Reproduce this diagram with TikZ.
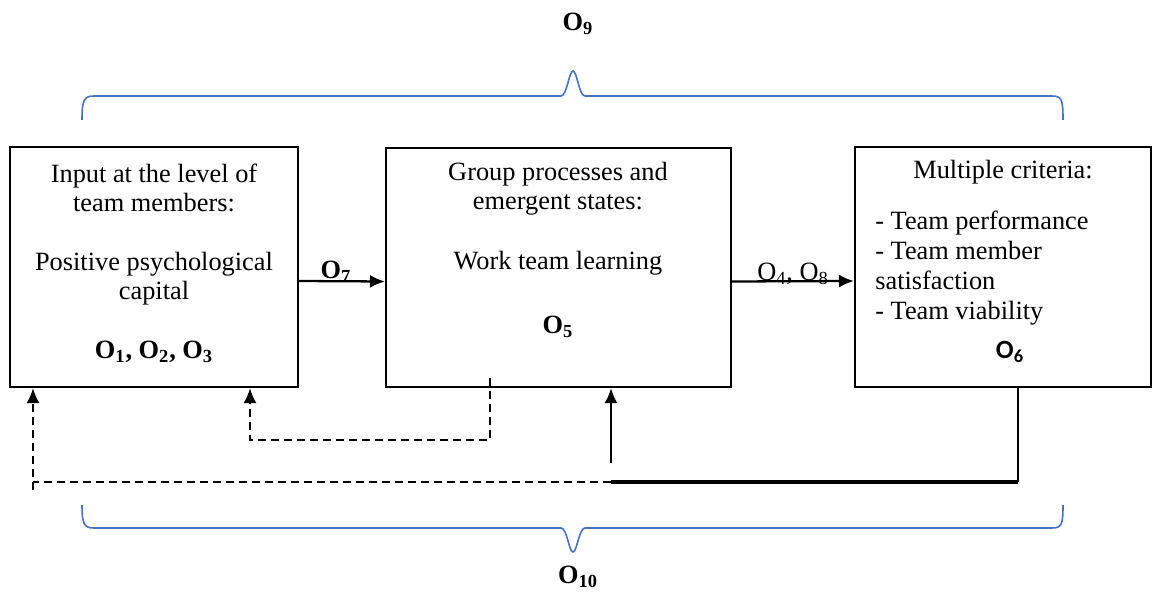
\documentclass[tikz,border=0pt]{standalone}
\usepackage{fontspec}
\setmainfont{Liberation Serif}
\newfontfamily\calibrifont{Carlito}
\usetikzlibrary{
	arrows.meta,   %箭头
	positioning,   %定位
	calc           %计算
}
\definecolor{braceblue}{RGB}{68,114,196}
\tikzset{
	every picture/.style={
		>={Latex[length=3mm,width=2.6mm]}
}}
\tikzset{
	box/.style={draw,rectangle,line width=1.2pt,inner sep=0pt},
	txt/.style={inner sep=0pt,align=center,font=\fontsize{15}{16.5}\selectfont},
	flow/.style={->,line width=1.3pt},
	feed/.style={line width=1.3pt},
	feeddash/.style={line width=1.3pt,dash pattern=on 0.16cm off 0.1cm},
	curly/.style={braceblue,line width=0.9pt}
}

\begin{document}
\begin{tikzpicture}[x=0.02cm,y=-0.02cm]
\useasboundingbox (0,0) rectangle (1153,601);
%三个方框
\node[box,minimum width=5.76cm,minimum height=4.8cm] (input) at (154,267) {};
\node[box,minimum width=6.9cm,minimum height=4.78cm] (process) at (558.5,267.5) {};
\node[box,minimum width=5.92cm,minimum height=4.8cm] (criteria) at (1003,267) {};
%方框里的文字
\node[txt] (inputhead) at (154,188) {Input at the level of\\team members:};
\node[txt] (inputbody) at (154,279) {Positive psychological\\capital};
\node[txt] (inputcode) at (154,352) {\textbf{O\textsubscript{1}, O\textsubscript{2}, O\textsubscript{3}}};
\node[txt] (processhead) at (558,189) {Group processes and\\emergent states:};
\node[txt] (processbody) at (558,263) {Work team learning};
\node[txt] (processcode) at (558,327) {\textbf{O\textsubscript{5}}};
\node[txt] (criteriahead) at (1003,172) {Multiple criteria:};
\node[txt,align=left,anchor=west,font=\fontsize{15}{17}\selectfont] (criterialist) at (875,268)
	{- Team performance\\- Team member\\satisfaction\\- Team viability};
\node[txt,font=\fontsize{15}{16}\selectfont\calibrifont\bfseries] (criteriacode) at (1010,352) {O\textsubscript{6}};
%横向箭头
\draw[flow] ([yshift=-0.28cm]input.east) -- ([yshift=-0.28cm]process.west);
\draw[flow] ([yshift=-0.28cm]process.east) -- ([yshift=-0.28cm]criteria.west);
\node[txt] (linkA) at (336,272) {\textbf{O\textsubscript{7}}};
\node[txt] (linkB) at (793,274) {O\textsubscript{4}, O\textsubscript{8}};
%反馈线
\coordinate (learnout) at (490,378);
\coordinate (midturn) at (250,440);
\coordinate (critout) at (1018,387);
\coordinate (junction) at (611,482);
\coordinate (learnin) at (611,463);
\coordinate (loopend) at (33,490);
\draw[feeddash,->] (learnout) |- (midturn) -- (midturn |- input.south);
\draw[feed] (critout) -- (critout |- junction);
\draw[line width=1.8pt] (critout |- junction) -- (junction);
\draw[feed,->] (learnin) -- (learnin |- process.south);
\draw[feeddash] (junction) -- (junction -| loopend);
\draw[feeddash,->] (loopend) -- (loopend |- input.south);
%上下的大括号
\draw[curly] (82,120) .. controls (82,100) and (84,96) .. (94,96) -- (561,96)
	.. controls (567,96) and (569,71) .. (573,71)
	.. controls (577,71) and (579,96) .. (585,96) -- (1052,96)
	.. controls (1062,96) and (1063,100) .. (1063,120);
\draw[curly] (82,505) .. controls (82,524) and (84,528) .. (94,528) -- (561,528)
	.. controls (567,528) and (569,552) .. (573,552)
	.. controls (577,552) and (579,528) .. (585,528) -- (1052,528)
	.. controls (1062,528) and (1063,524) .. (1063,505);
\node[txt] (topcode) at (578,24) {\textbf{O\textsubscript{9}}};
\node[txt] (bottomcode) at (578,577) {\textbf{O\textsubscript{10}}};
\end{tikzpicture}
\end{document}
